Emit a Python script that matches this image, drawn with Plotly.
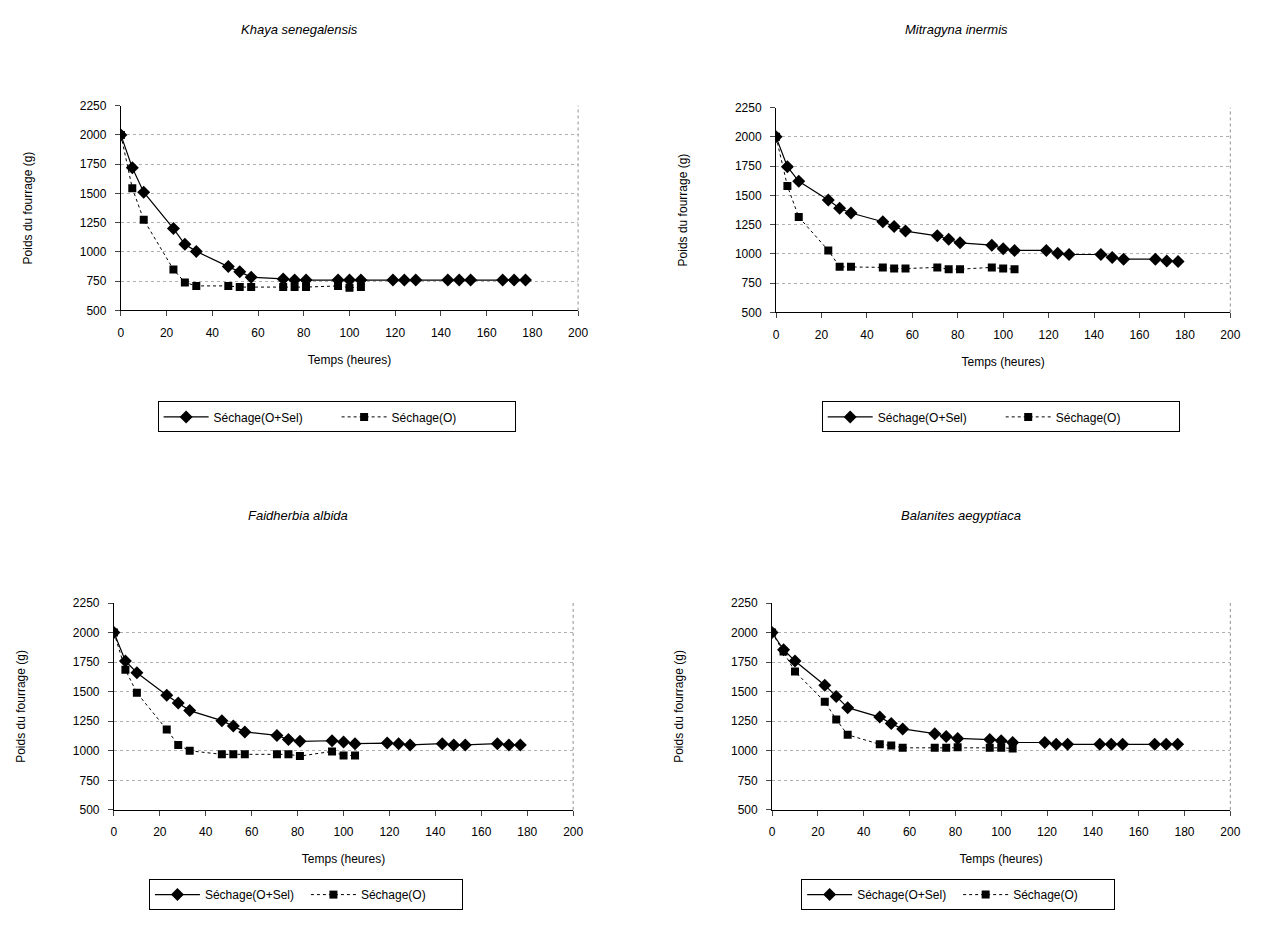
import plotly.graph_objects as go

W, H = 1263, 933

# ---- data ----
t_sel = [0, 5, 10, 23, 28, 33, 47, 52, 57, 71, 76, 81, 95, 100, 105, 119, 124, 129, 143, 148, 153, 167, 172, 177]
t_o = [0, 5, 10, 23, 28, 33, 47, 52, 57, 71, 76, 81, 95, 100, 105]

titles = ["Khaya senegalensis", "Mitragyna inermis", "Faidherbia albida", "Balanites aegyptiaca"]

khaya_sel = [2000, 1720, 1510, 1200, 1065, 1005, 875, 830, 785, 770, 760, 760, 760, 760, 760, 760, 760, 760, 760, 760, 760, 760, 760, 760]
khaya_o = [2000, 1545, 1275, 850, 740, 710, 710, 700, 700, 700, 700, 700, 710, 695, 700]

mitra_sel = [2000, 1745, 1620, 1460, 1390, 1350, 1275, 1235, 1195, 1155, 1125, 1095, 1075, 1045, 1030, 1030, 1005, 995, 995, 970, 955, 955, 940, 935]
mitra_o = [2000, 1580, 1315, 1030, 890, 890, 885, 875, 875, 885, 870, 870, 885, 875, 870]

faid_sel = [2000, 1760, 1660, 1470, 1405, 1340, 1255, 1210, 1160, 1130, 1095, 1080, 1085, 1075, 1060, 1065, 1060, 1050, 1060, 1050, 1050, 1060, 1050, 1050]
faid_o = [2000, 1685, 1490, 1180, 1050, 1000, 970, 970, 970, 970, 970, 955, 995, 960, 960]

bala_sel = [2000, 1855, 1760, 1555, 1460, 1365, 1285, 1230, 1185, 1145, 1120, 1105, 1095, 1085, 1070, 1070, 1055, 1055, 1055, 1055, 1055, 1055, 1055, 1055]
bala_o = [2000, 1840, 1670, 1415, 1265, 1135, 1055, 1045, 1025, 1025, 1025, 1030, 1025, 1025, 1020]

series_sel = [khaya_sel, mitra_sel, faid_sel, bala_sel]
series_o = [khaya_o, mitra_o, faid_o, bala_o]

name_sel = "Séchage(O+Sel)"
name_o = "Séchage(O)"

x_ticks = [0, 20, 40, 60, 80, 100, 120, 140, 160, 180, 200]
y_ticks = [500, 750, 1000, 1250, 1500, 1750, 2000, 2250]

# ---- layout geometry (pixels) ----
# (x_left, x_right, y_top, y_bottom)
boxes = [
    (111, 573, 92, 300),
    (773, 1232, 94, 302),
    (104, 568, 597, 807),
    (769, 1232, 597, 807),
]
title_pos = [(292, 15), (955, 15), (290, 508), (960, 508)]
legend_pos = [(329, 408), (1000, 408), (298, 893), (957, 893)]

FONT = "Liberation Sans, Arial, sans-serif"

fig = go.Figure()
layout = dict(
    width=W, height=H,
    margin=dict(l=0, r=0, t=0, b=0),
    paper_bgcolor="white", plot_bgcolor="white",
    font=dict(family=FONT, size=12, color="black"),
    showlegend=True,
    annotations=[], shapes=[],
)

for i in range(4):
    xl, xr, yt, yb = boxes[i]
    sfx = "" if i == 0 else str(i + 1)
    xa = "x" + sfx
    ya = "y" + sfx
    lg = "legend" + sfx
    fig.add_trace(go.Scatter(
        x=t_sel, y=series_sel[i], mode="lines+markers", name=name_sel,
        line=dict(color="black", width=1.2),
        marker=dict(symbol="diamond", size=10, color="black"),
        xaxis=xa, yaxis=ya, legend=lg,
    ))
    fig.add_trace(go.Scatter(
        x=t_o, y=series_o[i], mode="lines+markers", name=name_o,
        line=dict(color="black", width=1, dash="dot"),
        marker=dict(symbol="square", size=8, color="black"),
        xaxis=xa, yaxis=ya, legend=lg,
    ))
    layout["xaxis" + sfx] = dict(
        domain=[xl / W, xr / W], anchor=ya, range=[0, 200],
        tickvals=x_ticks, ticks="outside", ticklen=5, tickwidth=1,
        ticklabelstandoff=6,
        showline=True, linecolor="black", linewidth=1,
        showgrid=False, zeroline=False,
        tickfont=dict(size=12), title=dict(text="Temps (heures)", font=dict(size=12), standoff=16),
    )
    layout["yaxis" + sfx] = dict(
        domain=[1 - yb / H, 1 - yt / H], anchor=xa, range=[500, 2250],
        tickvals=y_ticks, ticks="outside", ticklen=5, tickwidth=1,
        ticklabelstandoff=6,
        showline=True, linecolor="black", linewidth=1,
        showgrid=True, gridcolor="#b0b0b0", griddash="dot", gridwidth=1,
        zeroline=False,
        tickfont=dict(size=12), title=dict(text="Poids du fourrage (g)", font=dict(size=12), standoff=44),
    )
    # dotted right border
    layout["shapes"].append(dict(
        type="line", xref=xa + " domain", yref=ya + " domain",
        x0=1, x1=1, y0=0, y1=1, line=dict(color="#909090", width=1, dash="dot"),
    ))
    tx, ty = title_pos[i]
    layout["annotations"].append(dict(
        text=titles[i], x=tx / W, y=1 - ty / H, xref="paper", yref="paper",
        showarrow=False, xanchor="center", yanchor="middle",
        font=dict(size=13, style="italic", family=FONT),
    ))
    lx, ly = legend_pos[i]
    layout[lg] = dict(
        orientation="h", x=lx / W, y=1 - ly / H, xanchor="center", yanchor="middle",
        xref="paper", yref="paper",
        bordercolor="black", borderwidth=1, bgcolor="white",
        font=dict(size=12), itemwidth=45,
        entrywidth=118 if i < 2 else 96, entrywidthmode="pixels",
    )

fig.update_layout(**layout)
fig.write_html("out.html")
